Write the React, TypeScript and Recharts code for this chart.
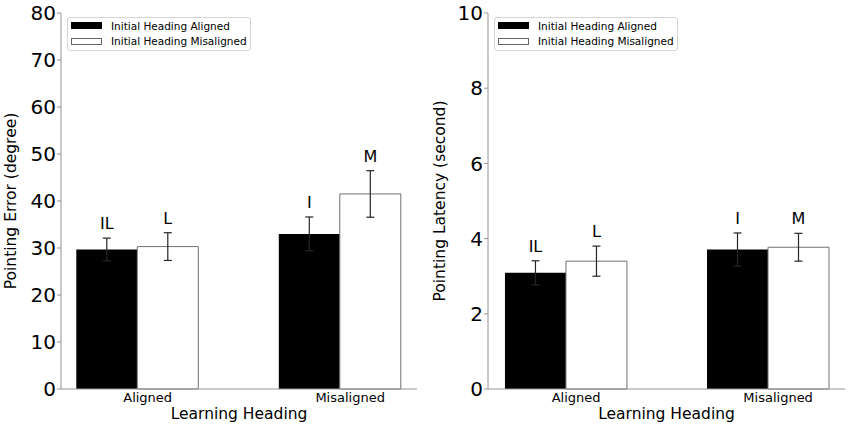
import { Bar, BarChart, ErrorBar, LabelList, Legend, XAxis, YAxis } from "recharts";

const categories = ["Aligned", "Misaligned"];
const seriesNames = ["Initial Heading Aligned", "Initial Heading Misaligned"];

// pointing error (degree)
const errorAligned = [29.7, 33.0];
const errorAlignedSe = [2.4, 3.6];
const errorMisaligned = [30.3, 41.5];
const errorMisalignedSe = [2.95, 4.95];
const errorTicks = [0, 10, 20, 30, 40, 50, 60, 70, 80];

// pointing latency (second)
const latencyAligned = [3.09, 3.71];
const latencyAlignedSe = [0.32, 0.44];
const latencyMisaligned = [3.4, 3.77];
const latencyMisalignedSe = [0.4, 0.37];
const latencyTicks = [0, 2, 4, 6, 8, 10];

// significance letters above the bars
const lettersAligned = ["IL", "I"];
const lettersMisaligned = ["L", "M"];

const AXIS = "#959595";
const ERR = "#262626";

function buildRows(a: number[], aSe: number[], m: number[], mSe: number[]) {
  return categories.map((name, i) => ({
    pos: i,
    name,
    aligned: a[i],
    alignedSe: aSe[i],
    misaligned: m[i],
    misalignedSe: mSe[i],
  }));
}

function HeadingLegend() {
  return (
    <div
      style={{
        width: 184,
        boxSizing: "border-box",
        border: "1px solid #d4d4d4",
        borderRadius: 3,
        background: "rgba(255,255,255,0.85)",
        padding: "0 0 1px 3px",
        fontSize: 10.5,
        color: "#000",
      }}
    >
      {seriesNames.map((name, i) => (
        <div key={name} style={{ display: "flex", alignItems: "center", height: 15.5 }}>
          <span
            style={{
              flexShrink: 0,
              width: 31,
              height: 7,
              boxSizing: "border-box",
              background: i === 0 ? "#000" : "#fff",
              border: i === 0 ? "none" : "1px solid #666",
              marginRight: 9,
            }}
          />
          <span>{name}</span>
        </div>
      ))}
    </div>
  );
}

function letterLabel(letters: string[], errors: number[]) {
  return (props: any) => {
    const vb = props.viewBox ?? props;
    const x = Number(vb.x);
    const y = Number(vb.y);
    const width = Number(vb.width);
    const height = Math.abs(Number(vb.height));
    const idx = props.index ?? 0;
    const value = Number(props.value);
    const perUnit = value ? height / value : 0;
    const top = y - errors[idx] * perUnit;
    return (
      <text x={x + width / 2} y={top - 9} textAnchor="middle" fontSize={16} fill="#000">
        {letters[idx]}
      </text>
    );
  };
}

interface PanelProps {
  a: number[];
  aSe: number[];
  m: number[];
  mSe: number[];
  yTicks: number[];
  yLabel: string;
  yWidth: number;
  right: number;
  xDomain: [number, number];
  labelX: number;
}

function Panel({ a, aSe, m, mSe, yTicks, yLabel, yWidth, right, xDomain, labelX }: PanelProps) {
  const rows = buildRows(a, aSe, m, mSe);
  return (
    <BarChart
      width={425}
      height={427}
      data={rows}
      margin={{ top: 13, right, bottom: 0, left: 0 }}
      barGap={0}
      barSize={61}
    >
      <XAxis
        type="number"
        dataKey="pos"
        domain={xDomain}
        allowDataOverflow
        ticks={[0.05, 1.05]}
        tickFormatter={(v: number) => categories[Math.round(v)]}
        tickLine={false}
        tickSize={0}
        tickMargin={4}
        axisLine={{ stroke: AXIS }}
        tick={{ fill: "#000", fontSize: 13 }}
        height={38}
        label={{ value: "Learning Heading", position: "insideBottom", offset: 8, fontSize: 15.5, fill: "#000" }}
      />
      <YAxis
        domain={[yTicks[0], yTicks[yTicks.length - 1]]}
        ticks={yTicks}
        width={yWidth}
        tickSize={4}
        tickMargin={1}
        axisLine={{ stroke: AXIS }}
        tickLine={{ stroke: AXIS }}
        tick={{ fill: "#000", fontSize: 20 }}
        label={{
          content: () => (
            <text
              x={labelX}
              y={201}
              transform={`rotate(-90 ${labelX} 201)`}
              textAnchor="middle"
              dominantBaseline="central"
              fontSize={15.5}
              fill="#000"
            >
              {yLabel}
            </text>
          ),
        }}
      />
      <Legend
        layout="horizontal"
        verticalAlign="middle"
        align="center"
        content={<HeadingLegend />}
        wrapperStyle={{ top: 17, left: yWidth + 6, width: 184 }}
      />
      <Bar dataKey="aligned" name={seriesNames[0]} fill="#000" isAnimationActive={false}>
        <ErrorBar dataKey="alignedSe" direction="y" width={4} stroke={ERR} strokeWidth={1.2} />
        <LabelList dataKey="aligned" content={letterLabel(lettersAligned, aSe)} />
      </Bar>
      <Bar dataKey="misaligned" name={seriesNames[1]} fill="#fff" stroke="#707070" strokeWidth={1} isAnimationActive={false}>
        <ErrorBar dataKey="misalignedSe" direction="y" width={4} stroke={ERR} strokeWidth={1.2} />
        <LabelList dataKey="misaligned" content={letterLabel(lettersMisaligned, mSe)} />
      </Bar>
    </BarChart>
  );
}

export default function App() {
  return (
    <div
      style={{
        position: "absolute",
        left: 0,
        top: 0,
        width: 850,
        height: 427,
        background: "#fff",
        display: "flex",
        fontFamily: "'DejaVu Sans', sans-serif",
      }}
    >
      <Panel
        a={errorAligned}
        aSe={errorAlignedSe}
        m={errorMisaligned}
        mSe={errorMisalignedSe}
        yTicks={errorTicks}
        yLabel="Pointing Error (degree)"
        yWidth={61}
        right={8}
        xDomain={[-0.378, 1.38]}
        labelX={11}
      />
      <Panel
        a={latencyAligned}
        aSe={latencyAlignedSe}
        m={latencyMisaligned}
        mSe={latencyMisalignedSe}
        yTicks={latencyTicks}
        yLabel="Pointing Latency (second)"
        yWidth={63}
        right={5}
        xDomain={[-0.386, 1.381]}
        labelX={15}
      />
    </div>
  );
}
